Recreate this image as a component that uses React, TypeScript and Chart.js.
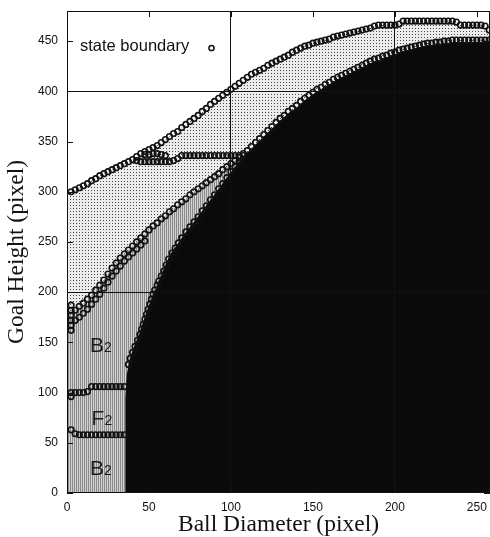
import React, { useEffect, useRef } from 'react';
import { Chart, registerables } from 'chart.js';

Chart.register(...registerables);

type P = { x: number; y: number };

// ---- data ----
const xRange = { min: 0, max: 258, step: 50 };
const yRange = { min: 0, max: 480, step: 50 };

const upperBoundary: P[] = [
  { x: 2.5, y: 300 }, { x: 5, y: 302 }, { x: 7.5, y: 304 }, { x: 10, y: 306 }, { x: 12.5, y: 308 },
  { x: 15, y: 311 }, { x: 17.5, y: 313 }, { x: 20, y: 316 }, { x: 22.5, y: 318 }, { x: 25, y: 320 },
  { x: 27.5, y: 322 }, { x: 30, y: 324 }, { x: 32.5, y: 326 }, { x: 35, y: 328 }, { x: 37.5, y: 330 },
  { x: 40, y: 332 }, { x: 42.5, y: 335 }, { x: 45, y: 338 }, { x: 47.5, y: 340 }, { x: 50, y: 342 },
  { x: 52.5, y: 344 }, { x: 55, y: 346 }, { x: 57.5, y: 349 }, { x: 60, y: 352 }, { x: 62.5, y: 355 },
  { x: 65, y: 358 }, { x: 67.5, y: 360 }, { x: 70, y: 364 }, { x: 72.5, y: 367 }, { x: 75, y: 370 },
  { x: 77.5, y: 373 }, { x: 80, y: 376 }, { x: 82.5, y: 380 }, { x: 85, y: 383 }, { x: 87.5, y: 387 },
  { x: 90, y: 390 }, { x: 92.5, y: 393 }, { x: 95, y: 396 }, { x: 97.5, y: 399 }, { x: 100, y: 402 },
  { x: 102.5, y: 405 }, { x: 105, y: 408 }, { x: 107.5, y: 411 }, { x: 110, y: 414 }, { x: 112.5, y: 417 },
  { x: 115, y: 419 }, { x: 117.5, y: 421 }, { x: 120, y: 423 }, { x: 122.5, y: 426 }, { x: 125, y: 428 },
  { x: 127.5, y: 430 }, { x: 130, y: 432 }, { x: 132.5, y: 434 }, { x: 135, y: 436 }, { x: 137.5, y: 439 },
  { x: 140, y: 441 }, { x: 142.5, y: 443 }, { x: 145, y: 445 }, { x: 147.5, y: 446 }, { x: 150, y: 448 },
  { x: 152.5, y: 449 }, { x: 155, y: 450 }, { x: 157.5, y: 451 }, { x: 160, y: 452 }, { x: 162.5, y: 454 },
  { x: 165, y: 455 }, { x: 167.5, y: 456 }, { x: 170, y: 457 }, { x: 172.5, y: 458 }, { x: 175, y: 459 },
  { x: 177.5, y: 460 }, { x: 180, y: 461 }, { x: 182.5, y: 462 }, { x: 185, y: 463 }, { x: 187.5, y: 465 },
  { x: 190, y: 466 }, { x: 192.5, y: 466 }, { x: 195, y: 466 }, { x: 197.5, y: 466 }, { x: 200, y: 466 },
  { x: 202.5, y: 467 }, { x: 205, y: 470 }, { x: 207.5, y: 470 }, { x: 210, y: 470 }, { x: 212.5, y: 470 },
  { x: 215, y: 470 }, { x: 217.5, y: 470 }, { x: 220, y: 470 }, { x: 222.5, y: 470 }, { x: 225, y: 470 },
  { x: 227.5, y: 470 }, { x: 230, y: 470 }, { x: 232.5, y: 470 }, { x: 235, y: 470 }, { x: 237.5, y: 469 },
  { x: 240, y: 466 }, { x: 242.5, y: 466 }, { x: 245, y: 466 }, { x: 247.5, y: 466 }, { x: 250, y: 466 },
  { x: 252.5, y: 466 }, { x: 255, y: 465 }, { x: 257.5, y: 461 },
];

const branchLower: P[] = [
  { x: 42.5, y: 331 }, { x: 45, y: 330 }, { x: 47.5, y: 330 }, { x: 50, y: 330 }, { x: 52.5, y: 330 },
  { x: 55, y: 330 }, { x: 57.5, y: 330 }, { x: 60, y: 330 }, { x: 62.5, y: 330 }, { x: 65, y: 331 },
  { x: 67.5, y: 333 },
];

const branchMiddle: P[] = [
  { x: 47.5, y: 337 }, { x: 50, y: 337 }, { x: 52.5, y: 338 }, { x: 55, y: 338 }, { x: 57.5, y: 337 },
  { x: 60, y: 336 },
];

const branchFlat: P[] = [
  { x: 70, y: 336 }, { x: 72.5, y: 336 }, { x: 75, y: 336 }, { x: 77.5, y: 336 }, { x: 80, y: 336 },
  { x: 82.5, y: 336 }, { x: 85, y: 336 }, { x: 87.5, y: 336 }, { x: 90, y: 336 }, { x: 92.5, y: 336 },
  { x: 95, y: 336 }, { x: 97.5, y: 336 }, { x: 100, y: 336 }, { x: 102.5, y: 336 }, { x: 105, y: 336 },
  { x: 107.5, y: 336 },
];

const leftColumn: P[] = [
  { x: 2.5, y: 162 }, { x: 2.5, y: 167 }, { x: 2.5, y: 172 }, { x: 2.5, y: 177 }, { x: 2.5, y: 182 },
  { x: 2.5, y: 187 },
];

const middleUpper: P[] = [
  { x: 5, y: 182 }, { x: 7.5, y: 186 }, { x: 10, y: 189 }, { x: 12.5, y: 193 }, { x: 15, y: 197 },
  { x: 17.5, y: 202 }, { x: 20, y: 207 }, { x: 22.5, y: 212 }, { x: 25, y: 218 }, { x: 27.5, y: 224 },
  { x: 30, y: 229 }, { x: 32.5, y: 234 }, { x: 35, y: 238 }, { x: 37.5, y: 242 }, { x: 40, y: 246 },
  { x: 42.5, y: 250 }, { x: 45, y: 254 }, { x: 47.5, y: 258 }, { x: 50, y: 262 }, { x: 52.5, y: 266 },
  { x: 55, y: 269 }, { x: 57.5, y: 273 }, { x: 60, y: 276 }, { x: 62.5, y: 280 }, { x: 65, y: 283 },
  { x: 67.5, y: 287 }, { x: 70, y: 290 }, { x: 72.5, y: 293 }, { x: 75, y: 297 }, { x: 77.5, y: 300 },
  { x: 80, y: 303 }, { x: 82.5, y: 306 }, { x: 85, y: 309 }, { x: 87.5, y: 312 }, { x: 90, y: 315 },
  { x: 92.5, y: 318 }, { x: 95, y: 322 }, { x: 97.5, y: 325 }, { x: 100, y: 328 }, { x: 102.5, y: 331 },
  { x: 105, y: 334 },
];

const middleLower: P[] = [
  { x: 5, y: 172 }, { x: 7.5, y: 175 }, { x: 10, y: 179 }, { x: 12.5, y: 183 }, { x: 15, y: 188 },
  { x: 17.5, y: 193 }, { x: 20, y: 198 }, { x: 22.5, y: 204 }, { x: 25, y: 210 }, { x: 27.5, y: 216 },
  { x: 30, y: 221 }, { x: 32.5, y: 226 }, { x: 35, y: 231 }, { x: 37.5, y: 235 }, { x: 40, y: 239 },
  { x: 42.5, y: 243 }, { x: 45, y: 247 }, { x: 47.5, y: 251 },
];

const darkEdgeLeftMarkers: P[] = [
  { x: 37.5, y: 128 }, { x: 38.5, y: 134 }, { x: 40, y: 140 }, { x: 41.5, y: 146 }, { x: 43, y: 152 },
  { x: 44.5, y: 158 }, { x: 45.5, y: 163 }, { x: 46.5, y: 168 }, { x: 47.5, y: 173 }, { x: 48.5, y: 178 },
  { x: 49.5, y: 183 }, { x: 50.5, y: 188 }, { x: 51.5, y: 193 }, { x: 52.5, y: 198 }, { x: 53.5, y: 202 },
  { x: 55, y: 207 }, { x: 56, y: 211 }, { x: 57.5, y: 216 }, { x: 59, y: 221 }, { x: 60.5, y: 227 },
  { x: 62, y: 233 }, { x: 64, y: 239 }, { x: 66, y: 244 }, { x: 68, y: 249 }, { x: 70, y: 254 },
  { x: 72.5, y: 260 }, { x: 75, y: 265 }, { x: 77.5, y: 270 }, { x: 80, y: 275 }, { x: 82.5, y: 281 },
  { x: 85, y: 286 }, { x: 87.5, y: 292 }, { x: 90, y: 297 }, { x: 92.5, y: 303 }, { x: 95, y: 308 },
  { x: 97.5, y: 314 }, { x: 100, y: 320 }, { x: 102.5, y: 325 }, { x: 105, y: 330 },
];

const darkEdgeMarkers: P[] = [
  { x: 107.5, y: 338 }, { x: 110, y: 341 }, { x: 112.5, y: 345 }, { x: 115, y: 349 }, { x: 117.5, y: 353 },
  { x: 120, y: 357 }, { x: 122.5, y: 361 }, { x: 125, y: 365 }, { x: 127.5, y: 369 }, { x: 130, y: 373 },
  { x: 132.5, y: 376 }, { x: 135, y: 380 }, { x: 137.5, y: 383 }, { x: 140, y: 386 }, { x: 142.5, y: 390 },
  { x: 145, y: 393 }, { x: 147.5, y: 396 }, { x: 150, y: 399 }, { x: 152.5, y: 402 }, { x: 155, y: 404 },
  { x: 157.5, y: 407 }, { x: 160, y: 409 }, { x: 162.5, y: 412 }, { x: 165, y: 414 }, { x: 167.5, y: 416 },
  { x: 170, y: 418 }, { x: 172.5, y: 420 }, { x: 175, y: 422 }, { x: 177.5, y: 424 }, { x: 180, y: 426 },
  { x: 182.5, y: 428 }, { x: 185, y: 430 }, { x: 187.5, y: 432 }, { x: 190, y: 433 }, { x: 192.5, y: 435 },
  { x: 195, y: 436 }, { x: 197.5, y: 438 }, { x: 200, y: 439 }, { x: 202.5, y: 441 }, { x: 205, y: 442 },
  { x: 207.5, y: 443 }, { x: 210, y: 444 }, { x: 212.5, y: 445 }, { x: 215, y: 446 }, { x: 217.5, y: 447 },
  { x: 220, y: 448 }, { x: 222.5, y: 448 }, { x: 225, y: 449 }, { x: 227.5, y: 449 }, { x: 230, y: 450 },
  { x: 232.5, y: 450 }, { x: 235, y: 451 }, { x: 237.5, y: 451 }, { x: 240, y: 451 }, { x: 242.5, y: 451 },
  { x: 245, y: 451 }, { x: 247.5, y: 451 }, { x: 250, y: 451 }, { x: 252.5, y: 451 }, { x: 255, y: 451 },
  { x: 257.5, y: 451 },
];

const rowF2Top: P[] = [
  { x: 2.5, y: 96 }, { x: 2.5, y: 100 }, { x: 5, y: 100 }, { x: 7.5, y: 100 }, { x: 10, y: 100 },
  { x: 12.5, y: 101 }, { x: 15, y: 106 }, { x: 17.5, y: 106 }, { x: 20, y: 106 }, { x: 22.5, y: 106 },
  { x: 25, y: 106 }, { x: 27.5, y: 106 }, { x: 30, y: 106 }, { x: 32.5, y: 106 }, { x: 35, y: 106 },
];

const rowF2Bottom: P[] = [
  { x: 2.5, y: 63 }, { x: 5, y: 59 }, { x: 7.5, y: 58 }, { x: 10, y: 58 }, { x: 12.5, y: 58 },
  { x: 15, y: 58 }, { x: 17.5, y: 58 }, { x: 20, y: 58 }, { x: 22.5, y: 58 }, { x: 25, y: 58 },
  { x: 27.5, y: 58 }, { x: 30, y: 58 }, { x: 32.5, y: 58 }, { x: 35, y: 58 },
];

// top edge of the dark (black) region
const darkRegionEdge: P[] = [
  { x: 35.5, y: 0 }, { x: 35.5, y: 95 }, { x: 36.5, y: 118 }, { x: 38, y: 132 }, { x: 40, y: 142 },
  { x: 42, y: 150 }, { x: 44, y: 158 }, { x: 46, y: 168 }, { x: 48, y: 178 }, { x: 50, y: 187 },
  { x: 52, y: 196 }, { x: 54, y: 203 }, { x: 56, y: 211 }, { x: 58, y: 219 }, { x: 60, y: 227 },
  { x: 63, y: 238 }, { x: 67, y: 247 }, { x: 70, y: 254 }, { x: 73, y: 261 }, { x: 78, y: 271 },
  { x: 83, y: 282 }, { x: 88, y: 293 }, { x: 93, y: 304 }, { x: 97, y: 313 }, { x: 101, y: 322 },
  { x: 105, y: 330 }, { x: 110, y: 339 }, { x: 115, y: 347 }, { x: 120, y: 355 }, { x: 125, y: 363 },
  { x: 130, y: 371 }, { x: 135, y: 378 }, { x: 140, y: 384 }, { x: 145, y: 391 }, { x: 150, y: 397 },
  { x: 155, y: 402 }, { x: 160, y: 407 }, { x: 165, y: 412 }, { x: 170, y: 416 }, { x: 175, y: 420 },
  { x: 180, y: 424 }, { x: 185, y: 428 }, { x: 190, y: 431 }, { x: 195, y: 434 }, { x: 200, y: 437 },
  { x: 205, y: 440 }, { x: 210, y: 442 }, { x: 215, y: 444 }, { x: 220, y: 446 }, { x: 225, y: 447 },
  { x: 230, y: 448 }, { x: 235, y: 449 }, { x: 262, y: 449 },
];

// left end points of the shaded regions at x = 0 and right end beyond the axis
const lightEdgeLeft: P = { x: 0, y: 300 };
const lightEdgeRight: P = { x: 262, y: 458 };
const stripeEdgeLeft: P = { x: 0, y: 178 };

const regionLabels = [
  { main: 'B', sub: '2', x: 14, y: 140 },
  { main: 'F', sub: '2', x: 15, y: 68 },
  { main: 'B', sub: '2', x: 14, y: 18 },
];

const legendLabel = 'state boundary';

const markerSeries: P[][] = [
  upperBoundary, branchLower, branchMiddle, branchFlat, leftColumn,
  middleUpper, middleLower, darkEdgeLeftMarkers, darkEdgeMarkers, rowF2Top, rowF2Bottom,
];

function makePattern(ctx: CanvasRenderingContext2D, w: number, h: number, draw: (g: CanvasRenderingContext2D) => void) {
  const c = document.createElement('canvas');
  c.width = w;
  c.height = h;
  const g = c.getContext('2d')!;
  draw(g);
  return ctx.createPattern(c, 'repeat')!;
}

const decorPlugin = {
  id: 'decor',
  afterDraw(chart: any) {
    const { ctx, chartArea: a, scales } = chart;
    const xs = scales.x;
    const ys = scales.y;
    ctx.save();
    ctx.strokeStyle = '#111';
    ctx.lineWidth = 1;
    ctx.beginPath();
    xs.ticks.forEach((t: any) => {
      const px = Math.round(xs.getPixelForValue(t.value)) + 0.5;
      ctx.moveTo(px, a.bottom);
      ctx.lineTo(px, a.bottom - 6);
      ctx.moveTo(px, a.top);
      ctx.lineTo(px, a.top + 6);
    });
    ys.ticks.forEach((t: any) => {
      const py = Math.round(ys.getPixelForValue(t.value)) + 0.5;
      ctx.moveTo(a.left, py);
      ctx.lineTo(a.left + 6, py);
      ctx.moveTo(a.right, py);
      ctx.lineTo(a.right - 6, py);
    });
    ctx.stroke();
    ctx.strokeRect(a.left + 0.5, a.top + 0.5, a.right - a.left - 1, a.bottom - a.top - 1);

    // region labels with subscripts
    ctx.fillStyle = '#1a1a1a';
    ctx.textBaseline = 'alphabetic';
    ctx.textAlign = 'left';
    regionLabels.forEach((l) => {
      const px = xs.getPixelForValue(l.x);
      const py = ys.getPixelForValue(l.y);
      ctx.font = '21px "Liberation Sans"';
      ctx.fillText(l.main, px, py);
      const w = ctx.measureText(l.main).width;
      ctx.font = '14px "Liberation Sans"';
      ctx.fillText(l.sub, px + w, py);
    });

    // legend (gnuplot style: text then marker)
    ctx.font = '16.5px "Liberation Sans"';
    ctx.fillStyle = '#111';
    ctx.fillText(legendLabel, a.left + 13, a.top + 40);
    ctx.beginPath();
    ctx.lineWidth = 1.5;
    ctx.arc(a.left + 144.5, a.top + 37, 2.6, 0, Math.PI * 2);
    ctx.stroke();
    ctx.restore();
  },
};

export default function App() {
  const ref = useRef<HTMLCanvasElement | null>(null);

  useEffect(() => {
    document.body.style.margin = '0';
    const canvas = ref.current!;
    const ctx = canvas.getContext('2d')!;

    const lightPattern = makePattern(ctx, 3, 3, (g) => {
      g.fillStyle = '#ececec';
      g.fillRect(0, 0, 3, 3);
      g.fillStyle = '#4a4a4a';
      g.fillRect(1, 1, 1, 1);
    });
    const stripePattern = makePattern(ctx, 2, 1, (g) => {
      g.fillStyle = '#8a8a8a';
      g.fillRect(0, 0, 1, 1);
      g.fillStyle = '#d2d2d2';
      g.fillRect(1, 0, 1, 1);
    });

    const markerDatasets = markerSeries.map((s, i) => ({
      label: i === 0 ? legendLabel : legendLabel + ' ' + i,
      data: s,
      showLine: false,
      pointStyle: 'circle',
      pointRadius: 2.8,
      pointBorderWidth: 1.6,
      pointBorderColor: '#111',
      pointBackgroundColor: 'rgba(0,0,0,0)',
      borderColor: '#111',
      order: 0,
    }));

    const zeroPadY = (s: any) => { s.width = 67; s.paddingTop = 0; s.paddingBottom = 0; s.paddingLeft = 0; s.paddingRight = 0; };
    const zeroPadX = (s: any) => { s.height = 44; s.paddingTop = 0; s.paddingBottom = 0; s.paddingLeft = 0; s.paddingRight = 0; };

    const chart = new Chart(canvas, {
      type: 'line',
      data: {
        datasets: [
          ...markerDatasets,
          {
            label: 'dark region',
            data: darkRegionEdge,
            borderWidth: 0,
            borderColor: 'rgba(0,0,0,0)',
            backgroundColor: '#0a0a0a',
            pointRadius: 0,
            fill: 'origin',
            order: 1,
          },
          {
            label: 'B2/F2 region',
            data: [stripeEdgeLeft, ...middleUpper],
            borderWidth: 0,
            borderColor: 'rgba(0,0,0,0)',
            backgroundColor: stripePattern,
            pointRadius: 0,
            fill: 'origin',
            order: 2,
          },
          {
            label: 'light region',
            data: [lightEdgeLeft, ...upperBoundary, lightEdgeRight],
            borderWidth: 0,
            borderColor: 'rgba(0,0,0,0)',
            backgroundColor: lightPattern,
            pointRadius: 0,
            fill: 'origin',
            order: 3,
          },
        ] as any,
      },
      options: {
        animation: false,
        responsive: false,
        devicePixelRatio: 1,
        layout: { autoPadding: false, padding: { top: 11, right: 0, left: 0, bottom: 0 } },
        elements: { line: { tension: 0 } },
        plugins: { legend: { display: false }, tooltip: { enabled: false } },
        scales: {
          x: {
            type: 'linear',
            min: xRange.min,
            max: xRange.max,
            afterFit: zeroPadX,
            ticks: {
              stepSize: xRange.step,
              includeBounds: false,
              padding: 7,
              color: '#111',
              font: { family: 'Liberation Sans', size: 12 },
              maxRotation: 0,
            },
            grid: {
              z: 1,
              drawTicks: false,
              lineWidth: 1,
              color: (c: any) => (c.tick && c.tick.value > 0 && c.tick.value % 100 === 0 ? '#111' : 'rgba(0,0,0,0)'),
            },
            border: { display: false },
            title: {
              display: true,
              text: 'Ball Diameter (pixel)',
              color: '#111',
              font: { family: 'Liberation Serif', size: 23.5, lineHeight: 1 },
              padding: { top: 0, bottom: 0 },
            },
          },
          y: {
            type: 'linear',
            min: yRange.min,
            max: yRange.max,
            afterFit: zeroPadY,
            ticks: {
              stepSize: yRange.step,
              includeBounds: false,
              padding: 9,
              color: '#111',
              font: { family: 'Liberation Sans', size: 12 },
            },
            grid: {
              z: 1,
              drawTicks: false,
              lineWidth: 1,
              color: (c: any) => (c.tick && c.tick.value > 0 && c.tick.value % 200 === 0 ? '#111' : 'rgba(0,0,0,0)'),
            },
            border: { display: false },
            title: {
              display: true,
              text: 'Goal Height (pixel)',
              color: '#111',
              font: { family: 'Liberation Serif', size: 23.5, lineHeight: 1 },
              padding: { top: 5, bottom: 0 },
            },
          },
        },
      } as any,
      plugins: [decorPlugin],
    });

    return () => chart.destroy();
  }, []);

  return <canvas ref={ref} width={490} height={537} style={{ display: 'block' }} />;
}
